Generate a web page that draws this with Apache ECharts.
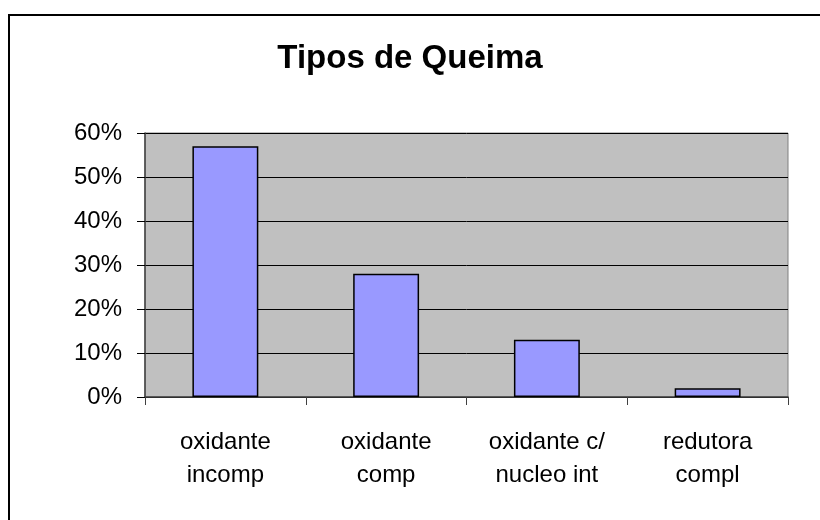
<!DOCTYPE html>
<html>
<head>
<meta charset="utf-8">
<script src="https://cdn.jsdelivr.net/npm/echarts@6/dist/echarts.min.js"></script>
<style>
  html, body { margin: 0; padding: 0; background: #fff; }
  #chart { width: 820px; height: 520px; }
</style>
</head>
<body>
<div id="chart"></div>
<script>
// tipos de queima (percentuais)
var categories = ["oxidante\nincomp", "oxidante\ncomp", "oxidante c/\nnucleo int", "redutora\ncompl"];
var values = [57, 28, 13, 2];
var yTicks = [0, 10, 20, 30, 40, 50, 60];

var chartDom = document.getElementById("chart");
var myChart = echarts.init(chartDom);
var option;

option = {
  animation: false,
  textStyle: { fontFamily: "Liberation Sans, Arial, sans-serif" },
  title: {
    text: "Tipos de Queima",
    left: "center",
    top: 37,
    textStyle: {
      fontFamily: "Liberation Sans, Arial, sans-serif",
      fontSize: 33,
      fontWeight: "bold",
      color: "#000"
    }
  },
  graphic: [
    {
      type: "rect",
      shape: { x: 9, y: 15, width: 840, height: 540 },
      style: { fill: "none", stroke: "#000", lineWidth: 2 },
      silent: true
    }
  ],
  grid: {
    left: 145,
    right: 32,
    top: 133,
    bottom: 123,
    show: true,
    backgroundColor: "#c0c0c0",
    borderColor: "#808080",
    borderWidth: 1
  },
  xAxis: {
    type: "category",
    data: categories,
    axisLine: { lineStyle: { color: "#404040", width: 1.5 } },
    axisTick: { show: true, length: 8, lineStyle: { color: "#404040" } },
    axisLabel: {
      color: "#000",
      fontSize: 24,
      lineHeight: 33,
      margin: 29,
      interval: 0
    }
  },
  yAxis: {
    type: "value",
    min: yTicks[0],
    max: yTicks[yTicks.length - 1],
    interval: 10,
    axisLine: { show: true, lineStyle: { color: "#404040", width: 1.5 } },
    axisTick: { show: true, length: 8, lineStyle: { color: "#000" } },
    axisLabel: {
      color: "#000",
      fontSize: 24,
      margin: 23,
      formatter: "{value}%"
    },
    splitLine: { show: true, lineStyle: { color: "#000", width: 1 } }
  },
  series: [
    {
      name: "Tipos de Queima",
      type: "bar",
      data: values,
      barWidth: "41%",
      itemStyle: {
        color: "#9999ff",
        borderColor: "#000",
        borderWidth: 1.5
      }
    }
  ]
};

option && myChart.setOption(option);
</script>
</body>
</html>
